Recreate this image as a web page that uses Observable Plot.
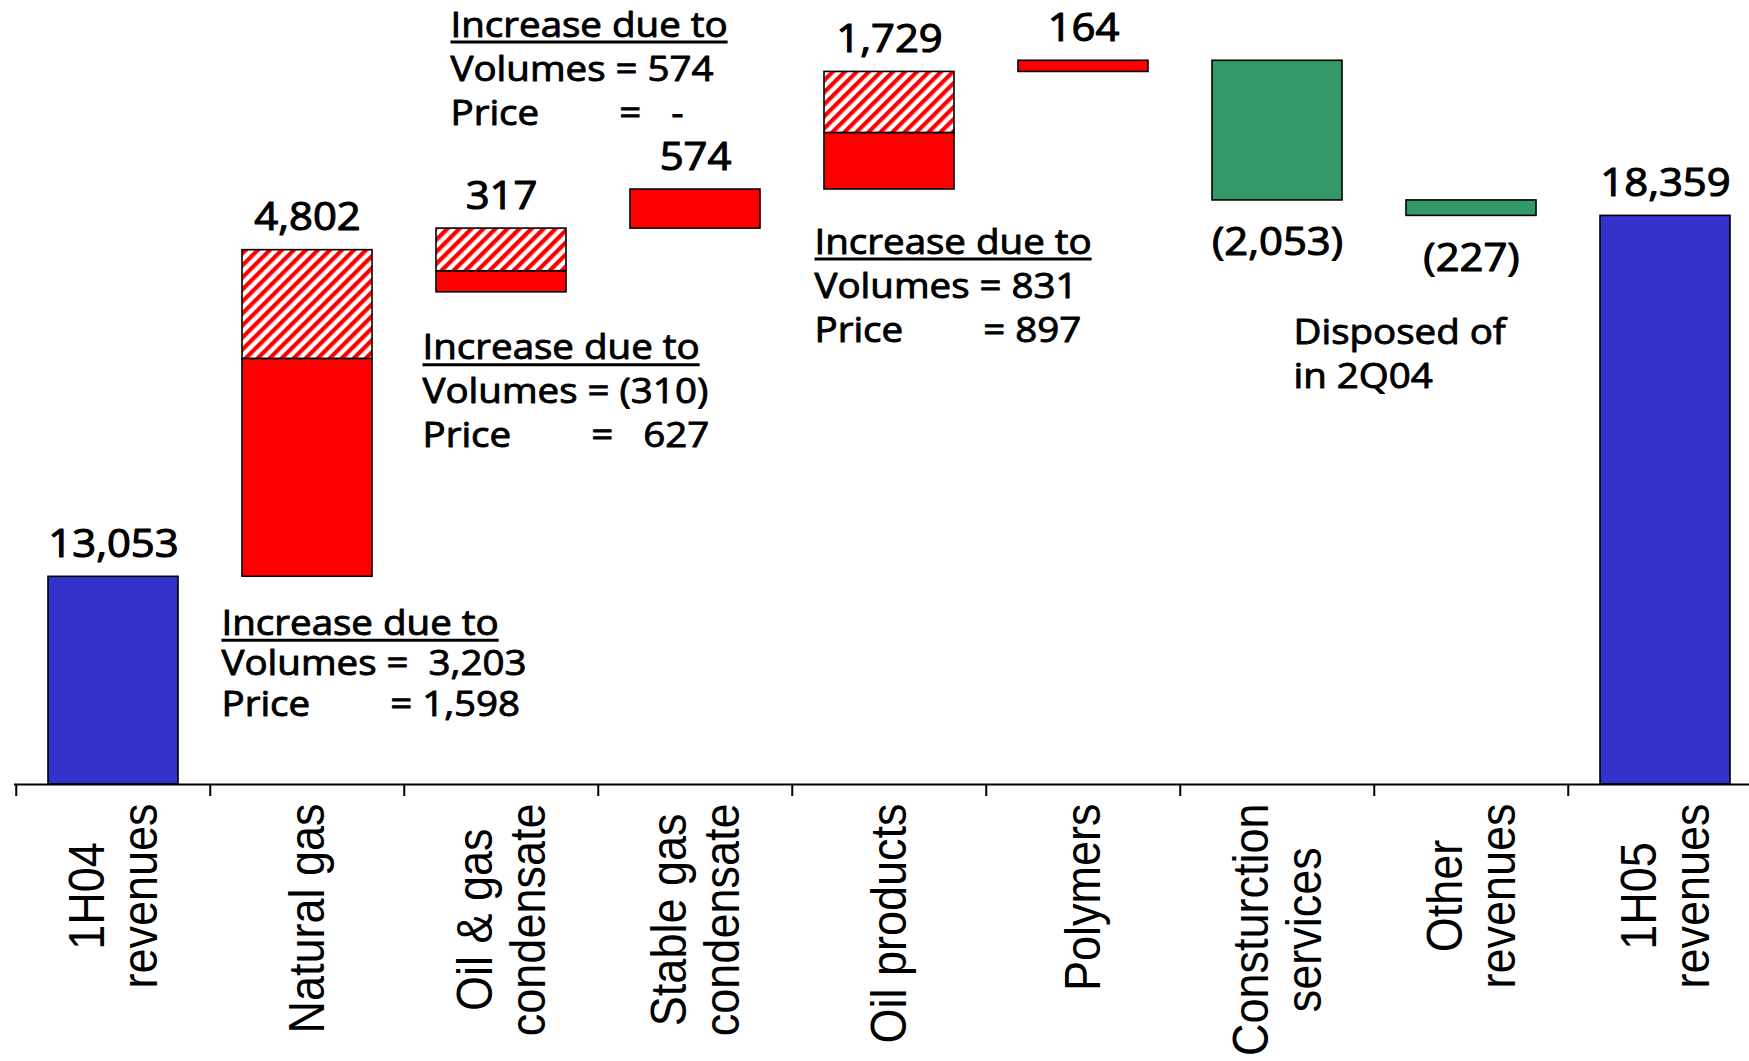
<!DOCTYPE html>
<html>
<head>
<meta charset="utf-8">
<script src="https://cdn.jsdelivr.net/npm/d3@7"></script>
<script src="https://cdn.jsdelivr.net/npm/@observablehq/plot@0.6"></script>
<style>
  html, body { margin: 0; padding: 0; background: #fff; }
  #chart svg { display: block; }
</style>
</head>
<body>
<div id="chart"></div>
<script>
// Revenue bridge, 1H04 -> 1H05 (RR million)
const categories = ["1H04\nrevenues", "Natural gas", "Oil & gas\ncondensate", "Stable gas\ncondensate",
  "Oil products", "Polymers", "Consturction\nservices", "Other\nrevenues", "1H05\nrevenues"];
const kinds = ["total", "increase", "increase", "increase", "increase", "increase", "decrease", "decrease", "total"];
const amounts = [13053, 4802, 317, 574, 1729, 164, -2053, -227, 18359];
// split of the change into volume and price effects
const volumeEffect = [null, 3203, -310, 574, 831, null, null, null, null];
const priceEffect = [null, 1598, 627, null, 897, null, null, null, null];

// side notes
const noteAnchors = ["Natural gas", "Oil & gas\ncondensate", "Stable gas\ncondensate", "Oil products", "Other\nrevenues"];
const noteHeadings = ["Increase due to", "Increase due to", "Increase due to", "Increase due to", ""];
const noteBodies = [
  "Volumes =  3,203\nPrice        = 1,598",
  "Volumes = (310)\nPrice        =   627",
  "Volumes = 574\nPrice        =   -",
  "Volumes = 831\nPrice        = 897",
  "Disposed of\nin 2Q04"
];

// ---- layout & style ----
const W = 1749, H = 1061;
const yFloor = 10000, yCeil = 21525;
const marginLeft = 14, marginRight = -15.5, marginBottom = 277;
const halfStep = (W - marginRight - marginLeft) / categories.length / 2;
const palette = {total: "#3333CC", increase: "#FF0000", decrease: "#339966"};
const valueFont = "Open Sans, Noto Sans, sans-serif";
const labelFamily = "Liberation Sans, Arial, sans-serif";
const labelSize = 45;
const noteSize = 35;
const textStretch = 1.1;

// notes: where each block sits relative to its bar edge (pixels)
const noteLayout = [
  {edge: "lo", dx: -86, baseline: 58, lh: 1.16},
  {edge: "lo", dx: -79, baseline: 109, lh: 1.257},
  {edge: "hi", dx: -245, baseline: -153, lh: 1.257},
  {edge: "lo", dx: -75, baseline: 64, lh: 1.257},
  {edge: "lo", dx: -178, baseline: 128, lh: 1.257}
];

const fmt = d3.format(",");
const fmtValue = v => v < 0 ? `(${fmt(-v)})` : fmt(v);

// running totals of the bridge
let running = 0;
const steps = categories.map((category, i) => {
  const kind = kinds[i];
  let lo, hi;
  if (kind === "total") {
    running = amounts[i];
    lo = yFloor; hi = running;
  } else {
    const start = running;
    running += amounts[i];
    lo = Math.min(start, running); hi = Math.max(start, running);
  }
  return {category, kind, amount: amounts[i], lo, hi};
});
const stepOf = new Map(steps.map(s => [s.category, s]));

// bar pieces: solid = volume effect, hatched = price effect (stacked down from the new level)
const segments = steps.flatMap((s, i) => {
  const v = volumeEffect[i];
  if (v == null) return [{category: s.category, y1: s.lo, y2: s.hi, fill: palette[s.kind]}];
  const p = priceEffect[i] ?? 0;
  const out = [{category: s.category, y1: s.hi - p - Math.abs(v), y2: s.hi - p, fill: palette.increase}];
  if (p) out.push({category: s.category, y1: s.hi - p, y2: s.hi, fill: "url(#hatch)"});
  return out;
});

const barMarks = d3.groups(segments, d => d.fill).map(([fill, rows]) =>
  Plot.barY(rows, {x: "category", y1: "y1", y2: "y2", fill, stroke: "#000", strokeWidth: 1.6})
);

// category labels: rotated, lines centred on each other, block hung below the axis
const ctx = document.createElement("canvas").getContext("2d");
ctx.font = `${labelSize}px 'Liberation Sans'`;
const labelMarks = categories.map(c => {
  const L = d3.max(c.split("\n"), s => ctx.measureText(s).width);
  return Plot.text([c], {
    x: d => d, text: d => d, frameAnchor: "bottom",
    rotate: -90, textAnchor: "middle", lineAnchor: "middle", lineHeight: 1.07,
    fontSize: labelSize, fontFamily: labelFamily, fill: "#000",
    dy: 19 + L / 2
  });
});

const nb = s => s.replace(/ /g, "\u00A0");
const noteMarks = noteAnchors.map((c, i) => {
  const lay = noteLayout[i];
  const s = stepOf.get(c);
  const lines = (noteHeadings[i] ? noteHeadings[i] + "\n" : "") + noteBodies[i];
  return Plot.text([{category: c, level: s[lay.edge], text: nb(lines)}], {
    x: "category", y: "level", text: "text",
    textAnchor: "start", lineAnchor: "top", lineHeight: lay.lh,
    fontSize: noteSize, fontFamily: valueFont, fill: "#000", stroke: "#000", strokeWidth: 0.9,
    dx: lay.dx, dy: lay.baseline - 0.71 * lay.lh * noteSize
  });
});

const chart = Plot.plot({
  width: W, height: H,
  marginTop: 0, marginBottom, marginLeft, marginRight,
  x: {domain: categories, paddingInner: 0.332, paddingOuter: 0.166},
  y: {domain: [yFloor, yCeil], axis: null},
  marks: [
    ...barMarks,
    Plot.ruleY([yFloor], {stroke: "#000", strokeWidth: 2.2}),
    Plot.axisX({tickSize: 12, tickFormat: () => "", label: null, dx: -halfStep, stroke: "#000", strokeWidth: 2, strokeOpacity: 1}),
    Plot.text(steps.filter(d => d.amount >= 0), {
      x: "category", y: "hi", text: d => fmtValue(d.amount),
      lineAnchor: "bottom", dy: -20, fontSize: 38, fontFamily: valueFont,
      fill: "#000", stroke: "#000", strokeWidth: 1.1
    }),
    Plot.text(steps.filter(d => d.amount < 0), {
      x: "category", y: "lo", text: d => fmtValue(d.amount),
      lineAnchor: "top", dy: 28, fontSize: 38, fontFamily: valueFont,
      fill: "#000", stroke: "#000", strokeWidth: 1.1
    }),
    ...labelMarks,
    ...noteMarks
  ]
});

// hatch fill for the price effect
const defs = d3.select(chart).insert("defs", ":first-child");
const pat = defs.append("pattern").attr("id", "hatch")
  .attr("patternUnits", "userSpaceOnUse").attr("width", 8.5).attr("height", 8.5)
  .attr("patternTransform", "rotate(45)");
pat.append("rect").attr("width", 8.5).attr("height", 8.5).attr("fill", "#fff");
pat.append("rect").attr("width", 4.2).attr("height", 8.5).attr("fill", "#FF0000");

// slightly widened lettering
chart.querySelectorAll("text").forEach(t => {
  const tr = t.getAttribute("transform");
  if (tr) t.setAttribute("transform", tr.replace(/^(translate\([^)]*\))/, `$1 scale(${textStretch},1)`));
});

document.getElementById("chart").appendChild(chart);

// underline the heading line of each note
const headingSet = new Set(noteHeadings.filter(Boolean).map(nb));
chart.querySelectorAll("text").forEach(t => {
  const first = t.querySelector("tspan");
  if (!first || !headingSet.has(first.textContent)) return;
  const yAttr = first.getAttribute("y") || "0";
  const baseline = yAttr.endsWith("em") ? parseFloat(yAttr) * noteSize : parseFloat(yAttr);
  const width = first.getComputedTextLength();
  const line = document.createElementNS("http://www.w3.org/2000/svg", "line");
  line.setAttribute("transform", t.getAttribute("transform") || "");
  line.setAttribute("x1", 0);
  line.setAttribute("x2", width);
  line.setAttribute("y1", baseline + 5.5);
  line.setAttribute("y2", baseline + 5.5);
  line.setAttribute("stroke", "#000");
  line.setAttribute("stroke-width", 3);
  t.parentNode.appendChild(line);
});
</script>
</body>
</html>
